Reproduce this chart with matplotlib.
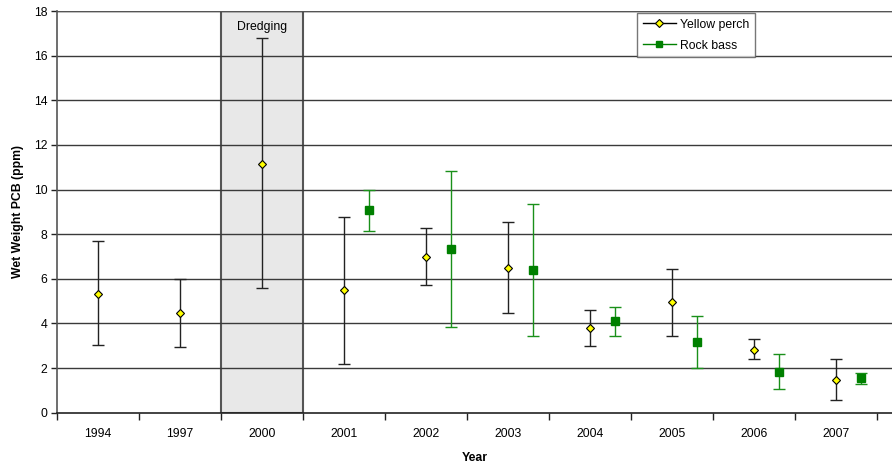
import matplotlib
matplotlib.use("Agg")
import matplotlib.pyplot as plt
import numpy as np

years = ["1994", "1997", "2000", "2001", "2002", "2003", "2004", "2005", "2006", "2007"]
perch_mean = [5.33, 4.47, 11.16, 5.48, 6.98, 6.50, 3.79, 4.95, 2.82, 1.48]
perch_low = [3.02, 2.93, 5.59, 2.20, 5.72, 4.47, 2.97, 3.45, 2.41, 0.57]
perch_high = [7.71, 6.00, 16.79, 8.75, 8.28, 8.53, 4.62, 6.45, 3.32, 2.39]
bass_years = ["2001", "2002", "2003", "2004", "2005", "2006", "2007"]
bass_mean = [9.08, 7.33, 6.41, 4.11, 3.18, 1.84, 1.55]
bass_low = [8.13, 3.84, 3.45, 3.45, 2.00, 1.05, 1.29]
bass_high = [9.96, 10.83, 9.34, 4.72, 4.33, 2.64, 1.76]

plt.rcParams['font.family'] = ['Liberation Sans', 'DejaVu Sans']
FS = 8.8

fig = plt.figure(figsize=(8.92, 4.68), dpi=100)
ax = fig.add_axes([57/892, (468-412.7)/468, 1 - 57/892, (412.7-11)/468])

xp = np.arange(len(years))
bass_off = 0.31
xb = np.array([years.index(y) for y in bass_years]) + bass_off

# Dredging box
di = years.index("2000")
ax.axvspan(di - 0.5, di + 0.5, ymin=0, ymax=1, facecolor='#e8e8e8',
           edgecolor='#555555', linewidth=1.5, zorder=1)
ax.text(di, 17.3, "Dredging", ha='center', va='center', fontsize=FS, zorder=5)

for v in range(2, 19, 2):
    ax.axhline(v, color='#3a3a3a', linewidth=1.0, zorder=2)

pm = np.array(perch_mean)
ax.errorbar(xp, pm, yerr=[pm - np.array(perch_low), np.array(perch_high) - pm],
            fmt='none', ecolor='#222222', elinewidth=1.0, capsize=4, capthick=1.0, zorder=3)
bm = np.array(bass_mean)
ax.errorbar(xb, bm, yerr=[bm - np.array(bass_low), np.array(bass_high) - bm],
            fmt='none', ecolor='#1a901a', elinewidth=1.0, capsize=4, capthick=1.0, zorder=3)
ax.plot(xp, pm, linestyle='none', marker='D', markersize=4.5, markerfacecolor='#ffff00',
        markeredgecolor='black', markeredgewidth=0.8, zorder=4)
ax.plot(xb, bm, linestyle='none', marker='s', markersize=6, markerfacecolor='#008000',
        markeredgecolor='#008000', zorder=4)

# legend proxies
lp, = ax.plot([], [], color='black', linewidth=1.0, marker='D', markersize=4.5,
              markerfacecolor='#ffff00', markeredgecolor='black', markeredgewidth=0.8,
              label='Yellow perch')
lb, = ax.plot([], [], color='#008000', linewidth=1.0, marker='s', markersize=5,
              markerfacecolor='#008000', markeredgecolor='#008000', label='Rock bass')
leg = ax.legend(handles=[lp, lb], loc='upper left', bbox_to_anchor=((637-57)/835, 0.995),
                fontsize=FS, frameon=True, fancybox=False, borderaxespad=0,
                handlelength=2.7, handletextpad=0.35, borderpad=0.45, labelspacing=0.75)
leg.get_frame().set_edgecolor('#555555')
leg.get_frame().set_linewidth(1.0)
leg.set_zorder(6)

ax.set_xlim(-0.5, -0.5 + 835/82)
ax.set_ylim(0, 18)
ax.set_yticks(range(0, 19, 2))
ax.set_xticks(np.arange(-0.5, 10.0, 1.0))
ax.set_xticklabels([])
ax.set_xticks(xp, minor=True)
ax.set_xticklabels(years, minor=True)
ax.tick_params(axis='x', which='minor', length=0, pad=11, labelsize=FS)
ax.tick_params(axis='x', which='major', length=5, width=1, color='#222222')
ax.tick_params(axis='y', length=4, width=1, labelsize=FS, pad=3, color='#222222')

for s in ['top', 'right']:
    ax.spines[s].set_visible(False)
ax.spines['left'].set_color('#555555')
ax.spines['left'].set_linewidth(1.2)
ax.spines['bottom'].set_color('#222222')
ax.spines['bottom'].set_linewidth(1.2)
ax.axhline(18, color='#555555', linewidth=1.0, zorder=2)

ax.set_xlabel("Year", fontsize=FS, fontweight='bold', labelpad=9)
ax.set_ylabel("Wet Weight PCB (ppm)", fontsize=FS, fontweight='bold', labelpad=7)

fig.savefig("out.png", dpi=100)
